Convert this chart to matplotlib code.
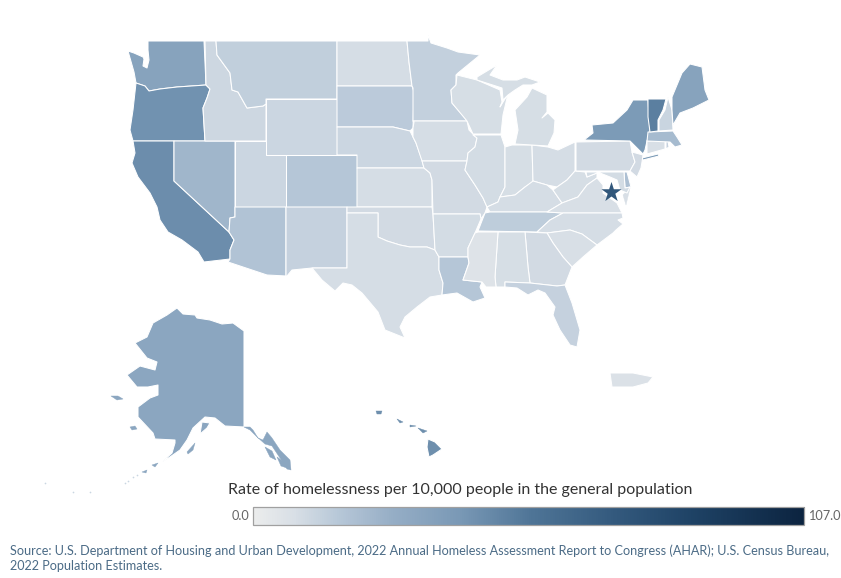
import numpy as np
import matplotlib
matplotlib.use("Agg")
import matplotlib.pyplot as plt
from matplotlib.colors import LinearSegmentedColormap, Normalize
from matplotlib.patches import Polygon

RATE_MIN, RATE_MAX = 0.0, 107.0
LEGEND_TITLE = "Rate of homelessness per 10,000 people in the general population"
SOURCE = ("Source: U.S. Department of Housing and Urban Development, 2022 Annual Homeless Assessment Report to Congress (AHAR); U.S. Census Bureau,\n"
          "2022 Population Estimates.")

RATES = {
 "WA":34,"OR":43,"CA":44.5,"NV":24,"ID":11,"MT":14,"WY":11.5,"UT":11.5,"CO":17.5,"AZ":18.5,"NM":13,
 "ND":9,"SD":15.5,"NE":11.5,"KS":9,"OK":10,"TX":9,"MN":13.5,"IA":9,"MO":10,"AR":9.5,"LA":17.5,
 "WI":8.5,"IL":9.5,"IN":8.5,"MI":8.5,"MI2":8.5,"OH":9,"KY":9,"TN":15,"MS":5.5,"AL":8.5,"GA":10,"FL":13,
 "SC":8,"NC":9,"VA":8,"VA2":8,"WV":8.5,"PA":10,"NY":39,"LI":39,"NJ":10,"DE":20,"MD":9.5,"CT":8,"RI":13,"MA":22,
 "VT":50,"NH":12,"ME":34,"PR":7,
 "AK":32,"AK2":32,"AK3":32,"AK4":32,"AK5":32,"AK6":32,"AK7":32,"AK8":32,"AK9":32,"AK10":32,
 "HI":44,"HI2":44,"HI3":44,"HI4":44,"HI5":44,
}
AK_RATE = 32
DC_RATE = 72
ALEUTIAN_ISLETS_X = [45, 73, 90, 125, 128, 133, 137]
ALEUTIAN_ISLETS_Y = [483, 492, 492, 483, 481, 477, 475]

OUTLINES = {
 "WA":[(148,41),(204,41),(206,85),(177,87),(160,89),(149,91),(145,86),(136,83),(134,72),(128,51),(134,53),(143,57),(144,59),(143,66),(147,68),(149,60),(148,50)],
 "OR":[(136,83),(145,86),(149,91),(160,89),(177,87),(206,85),(210,89),(207,98),(203,108),(205,141),(133,141),(130,130),(133,110)],
 "CA":[(133,141),(174,141),(174,181),(229,232),(234,240),(230,250),(230,259),(204,262),(198,252),(182,240),(168,232),(160,220),(157,207),(150,193),(138,177),(132,163),(135,153)],
 "NV":[(174,141),(235,141),(235,217),(230,218),(229,232),(174,181)],
 "ID":[(205,41),(216,41),(217,55),(230,73),(232,90),(238,92),(247,108),(263,106),(266,104),(266,141),(205,141),(203,108),(207,98),(210,89),(206,85)],
 "MT":[(216,41),(337,41),(337,99),(266,99),(266,104),(263,106),(247,108),(238,92),(232,90),(230,73),(217,55)],
 "WY":[(266,99),(337,99),(337,155),(266,155)],
 "UT":[(235,141),(266,141),(266,155),(286,155),(286,207),(235,207)],
 "CO":[(286,155),(357,155),(357,207),(286,207)],
 "AZ":[(235,207),(286,207),(286,276),(267,275),(228,262),(230,259),(230,250),(234,240),(229,232),(230,218),(235,217)],
 "NM":[(286,207),(347,207),(347,268),(312,268),(292,270),(287,276),(286,276)],
 "ND":[(337,41),(407,41),(409,62),(412,86),(337,86)],
 "SD":[(337,86),(412,86),(414,92),(413,128),(410,131),(393,127),(337,127)],
 "NE":[(337,127),(393,127),(410,131),(413,137),(416,143),(422,160),(424,168),(357,168),(357,155),(337,155)],
 "KS":[(357,168),(424,168),(430,173),(432,180),(432,207),(357,207)],
 "OK":[(347,207),(432,207),(433,214),(435,250),(427,247),(410,247),(400,245),(387,241),(378,237),(378,213),(347,213)],
 "TX":[(347,213),(378,213),(378,237),(387,241),(400,245),(410,247),(427,247),(435,250),(439,257),(439,270),(443,283),(442,295),(430,297),(417,307),(405,317),(400,327),(405,338),(385,330),(378,312),(362,293),(352,285),(343,283),(335,291),(322,280),(312,268),(347,268)],
 "MN":[(407,41),(428,41),(428,35),(431,43),(447,48),(458,52),(480,55),(458,73),(456,75),(456,85),(451,90),(452,103),(465,118),(467,121),(413,121),(413,88),(412,86),(409,62)],
 "IA":[(413,121),(467,121),(469,130),(477,138),(475,147),(468,153),(467,161),(422,161),(416,143),(413,137),(413,128),(414,122)],
 "MO":[(422,161),(467,161),(465,170),(475,185),(483,198),(487,207),(485,213),(481,219),(480,214),(433,214),(432,180),(430,173),(424,168)],
 "AR":[(433,214),(480,214),(481,219),(475,233),(468,248),(468,257),(439,257),(435,250)],
 "LA":[(439,257),(468,257),(469,263),(463,280),(482,282),(480,287),(485,298),(473,302),(457,293),(442,295),(443,283),(439,270)],
 "WI":[(457,75),(477,80),(500,90),(502,102),(500,107),(508,94),(503,115),(501,134),(473,134),(467,121),(452,103),(451,90),(456,85)],
 "IL":[(473,135),(501,135),(505,147),(505,187),(500,197),(498,202),(487,207),(483,198),(475,185),(465,170),(467,161),(468,153),(475,147),(477,138)],
 "IN":[(505,147),(512,145),(532,145),(533,182),(525,187),(515,195),(500,197),(505,187)],
 "OH":[(532,145),(548,147),(558,150),(575,142),(575,171),(567,180),(557,187),(547,185),(533,181)],
 "MI":[(515,144),(518,130),(515,110),(527,97),(532,88),(547,95),(547,112),(542,118),(548,113),(555,120),(554,133),(548,146)],
 "MI2":[(477,77),(497,65),(490,75),(503,80),(517,80),(525,77),(540,82),(532,85),(523,85),(515,90),(508,95),(503,100),(502,88),(477,80)],
 "KY":[(490,212),(487,207),(498,202),(500,197),(515,195),(525,187),(533,181),(547,185),(553,190),(562,203),(547,212)],
 "TN":[(478,231),(485,213),(490,212),(547,212),(563,213),(550,220),(537,232)],
 "WV":[(553,190),(557,187),(567,180),(575,171),(585,172),(587,177),(597,173),(597,178),(587,185),(578,197),(562,203)],
 "VA":[(547,212),(562,203),(578,197),(587,185),(597,178),(603,185),(603,193),(617,203),(622,213),(563,213)],
 "VA2":[(623,195),(630,188),(626,205)],
 "NC":[(563,213),(622,213),(623,218),(618,220),(623,224),(616,230),(613,233),(597,245),(582,234),(570,230),(547,233),(537,232),(550,220)],
 "SC":[(547,233),(570,230),(582,234),(597,245),(583,257),(572,267),(563,257),(553,243)],
 "GA":[(525,232),(547,233),(553,243),(563,257),(572,267),(565,285),(557,286),(530,283),(528,267)],
 "AL":[(498,232),(525,232),(528,267),(530,283),(505,282),(505,287),(496,287),(495,277)],
 "MS":[(478,232),(498,232),(495,277),(496,287),(486,287),(482,282),(463,280),(469,263),(468,257),(468,248),(475,233)],
 "FL":[(505,282),(530,283),(557,286),(565,285),(572,303),(580,330),(577,347),(570,345),(560,330),(553,315),(555,307),(545,293),(538,290),(528,295),(517,288),(505,287)],
 "PA":[(576,142),(630,141),(632,152),(635,162),(630,171),(576,171)],
 "NY":[(584,140),(593,133),(592,125),(613,123),(627,110),(633,100),(648,100),(650,132),(647,141),(645,150),(643,154),(632,143),(630,141)],
 "LI":[(642,158),(658,154),(659,156),(643,160)],
 "NJ":[(632,152),(643,155),(642,162),(641,168),(637,177),(630,171),(635,162)],
 "DE":[(624,172),(627,172),(631,187),(625,188)],
 "MD":[(586,172),(624,172),(625,188),(630,187),(627,193),(620,190),(617,180),(610,177),(600,173),(597,173),(587,177)],
 "CT":[(647,141),(665,141),(665,149),(647,154)],
 "RI":[(666,141),(668,141),(669,147),(666,149)],
 "MA":[(648,132),(673,131),(677,137),(682,145),(675,147),(670,142),(647,141)],
 "VT":[(648,99),(666,99),(663,110),(658,120),(658,131),(650,132),(648,117)],
 "NH":[(668,97),(672,110),(673,130),(659,131),(659,120),(665,110)],
 "ME":[(672,97),(682,73),(690,64),(702,67),(705,90),(709,100),(693,108),(680,113),(673,125),(672,110)],
 "PR":[(610,373),(633,373),(653,377),(648,383),(633,387),(612,387)],
 "AK":[(177,308),(183,314),(195,315),(197,318),(210,320),(222,324),(233,323),(244,331),(244,427),(225,426),(215,418),(205,417),(193,428),(187,440),(180,450),(170,457),(162,462),(172,453),(175,443),(175,440),(155,439),(153,433),(138,417),(138,407),(150,398),(158,395),(158,385),(148,387),(137,387),(127,375),(140,366),(155,370),(157,362),(147,358),(135,343),(147,337),(153,323),(167,315)],
 "AK2":[(202,422),(210,423),(207,428),(200,434)],
 "AK3":[(187,452),(195,443),(193,450),(188,454)],
 "AK4":[(130,427),(135,426),(137,429),(132,430)],
 "AK5":[(111,396),(118,396),(123,399),(117,400)],
 "AK6":[(142,472),(147,470),(146,473)],
 "AK7":[(152,465),(158,463),(155,467)],
 "AK8":[(244,427),(250,427),(253,430),(258,438),(263,440),(267,432),(272,438),(280,450),(290,460),(291,470),(287,469),(280,458),(272,446),(265,444),(256,436),(250,430)],
 "AK9":[(265,447),(272,451),(276,460),(270,457)],
 "AK10":[(277,457),(284,462),(287,468),(281,466)],
 "HI":[(428,439),(435,442),(442,449),(433,455),(429,457),(427,447)],
 "HI2":[(418,428),(427,431),(423,433)],
 "HI3":[(397,419),(403,422),(400,423)],
 "HI4":[(376,411),(382,411),(381,414),(377,414)],
 "HI5":[(410,425),(416,426),(410,427)],
}
BORDERLESS = {"HI2","HI3","HI4","HI5","AK3","AK4","AK5","AK6","AK7","AK8","AK9","AK10","VA2"}

CMAP_RATES = [0, 8, 16, 27, 40, 54, 70, 85, 107]
CMAP_COLORS = ["#eceded", "#d8dfe6", "#b9c9d9", "#96aec6", "#7a99b6", "#4f7597", "#345a7e", "#1f4366", "#0c2440"]
cmap = LinearSegmentedColormap.from_list(
    "rate", [((r - RATE_MIN) / (RATE_MAX - RATE_MIN), c) for r, c in zip(CMAP_RATES, CMAP_COLORS)])
norm = Normalize(RATE_MIN, RATE_MAX)

fig = plt.figure(figsize=(8.41, 5.78), dpi=100)
ax = fig.add_axes([0, 0, 1, 1])
ax.set_xlim(0, 841)
ax.set_ylim(578, 0)
ax.axis("off")

for code, pts in OUTLINES.items():
    col = cmap(norm(RATES[code]))
    thin = code in BORDERLESS
    ax.add_patch(Polygon(pts, closed=True, facecolor=col, edgecolor=col if thin else "white",
                         linewidth=0.3 if thin else 0.75, joinstyle="round"))

ax.scatter(ALEUTIAN_ISLETS_X, ALEUTIAN_ISLETS_Y, s=1.5, color=cmap(norm(AK_RATE)), alpha=0.45, linewidths=0)
ax.scatter([611], [191.5], marker="*", s=230, color=cmap(norm(DC_RATE)), linewidths=0, zorder=5)

FONT = "Lato"
ax.text(228, 490, LEGEND_TITLE, fontsize=11.52, family=FONT, color="#333333", va="center", ha="left")
grad = np.linspace(RATE_MIN, RATE_MAX, 512).reshape(1, -1)
ax.imshow(grad, cmap=cmap, norm=norm, extent=(253, 804.5, 525, 507), aspect="auto", zorder=2)
ax.add_patch(plt.Rectangle((253, 507), 551.5, 18, fill=False, edgecolor="#a0a0a0", linewidth=0.9, zorder=3))
ax.set_xlim(0, 841)
ax.set_ylim(578, 0)
ax.text(249, 516, f"{RATE_MIN:.1f}", fontsize=9.2, family=FONT, color="#666666", va="center", ha="right")
ax.text(808, 516, f"{RATE_MAX:.1f}", fontsize=9.2, family=FONT, color="#666666", va="center", ha="left")
ax.text(10, 558, SOURCE, fontsize=9.13, family=FONT, color="#4b6b86", va="center", ha="left", linespacing=1.35)

fig.savefig("out.png", dpi=100)
